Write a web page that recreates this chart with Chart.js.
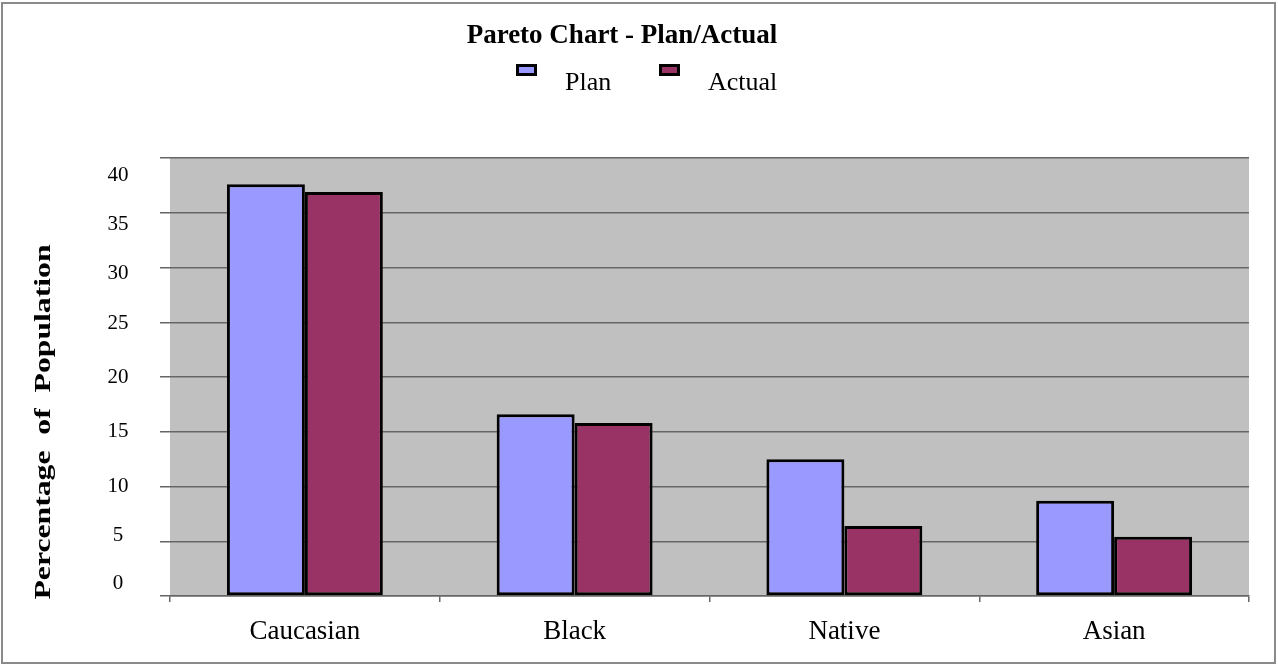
<!DOCTYPE html>
<html>
<head>
<meta charset="utf-8">
<script src="https://cdn.jsdelivr.net/npm/chart.js@4.4.1/dist/chart.umd.min.js"></script>
<style>
  html, body { margin: 0; padding: 0; background: #ffffff; }
  #wrap { position: relative; width: 1278px; height: 665px; }
</style>
</head>
<body>
<div id="wrap"><canvas id="chart" width="1278" height="665"></canvas></div>
<script>
// Chart content
const chartTitle = 'Pareto Chart - Plan/Actual';
const yAxisTitle = 'Percentage  of  Population';
const categories = ['Caucasian', 'Black', 'Native', 'Asian'];
const seriesNames = ['Plan', 'Actual'];
const planValues = [37.6, 16.6, 12.5, 8.7];
const actualValues = [36.9, 15.8, 6.4, 5.4];
const yMin = 0;
const yMax = 40;
const yStep = 5;

const SERIF = '"Liberation Serif", "Times New Roman", serif';
const GRID = '#666666';

// value-axis labels sit pulled in from the ends of the axis (pixels, + is downward)
const labelNudge = { 40: 17, 35: 12, 30: 6, 25: 1, 20: 0, 15: 0, 10: 0, 5: -6, 0: -13 };

// Frame, plot background, heading, legend, value-axis labels and rotated axis title
const decorations = {
  id: 'decorations',
  beforeDraw(chart) {
    const ctx = chart.ctx;
    const a = chart.chartArea;
    ctx.save();
    ctx.fillStyle = '#ffffff';
    ctx.fillRect(0, 0, chart.width, chart.height);
    ctx.strokeStyle = '#8a8a8a';
    ctx.lineWidth = 2;
    ctx.strokeRect(2, 3, chart.width - 5, chart.height - 5);
    ctx.fillStyle = '#c0c0c0';
    ctx.fillRect(a.left, a.top, a.right - a.left, a.bottom - a.top);
    ctx.restore();
  },
  afterDraw(chart) {
    const ctx = chart.ctx;
    ctx.save();
    // heading
    ctx.fillStyle = '#000';
    ctx.font = 'bold 27px ' + SERIF;
    ctx.textAlign = 'center';
    ctx.textBaseline = 'alphabetic';
    ctx.fillText(chartTitle, 622, 43);

    // legend
    const boxX = [516, 659];
    chart.data.datasets.forEach((ds, i) => {
      const bx = boxX[i];
      ctx.fillStyle = ds.backgroundColor;
      ctx.fillRect(bx, 64, 21, 12);
      ctx.strokeStyle = '#000';
      ctx.lineWidth = 3;
      ctx.strokeRect(bx + 1.5, 64 + 1.5, 18, 9);
      ctx.fillStyle = '#000';
      ctx.font = '26px ' + SERIF;
      ctx.textAlign = 'left';
      ctx.fillText(ds.label, bx + 49, 90);
    });

    // value-axis labels
    const ys = chart.scales.y;
    ctx.font = '21px ' + SERIF;
    ctx.textAlign = 'center';
    ctx.textBaseline = 'middle';
    ys.ticks.forEach(t => {
      const py = ys.getPixelForValue(t.value);
      ctx.fillText(String(t.value), 118, py + (labelNudge[t.value] || 0));
    });

    // rotated axis title, stretched along its length
    ctx.font = 'bold 23px ' + SERIF;
    const w = ctx.measureText(yAxisTitle).width;
    ctx.translate(44, 422);
    ctx.rotate(-Math.PI / 2);
    ctx.scale(355 / w, 1);
    ctx.textAlign = 'center';
    ctx.textBaseline = 'middle';
    ctx.fillText(yAxisTitle, 0, 0);
    ctx.restore();
  }
};

new Chart(document.getElementById('chart'), {
  type: 'bar',
  data: {
    labels: categories,
    datasets: [
      {
        label: seriesNames[0],
        data: planValues,
        backgroundColor: '#9999ff',
        borderColor: '#000000',
        borderWidth: 3,
        borderSkipped: false
      },
      {
        label: seriesNames[1],
        data: actualValues,
        backgroundColor: '#993366',
        borderColor: '#000000',
        borderWidth: 3,
        borderSkipped: false
      }
    ]
  },
  options: {
    responsive: false,
    animation: false,
    devicePixelRatio: 1,
    layout: { padding: { top: 158, right: 29, bottom: 0, left: 0 } },
    datasets: { bar: { categoryPercentage: 0.578, barPercentage: 1.0 } },
    plugins: {
      legend: { display: false },
      title: { display: false },
      tooltip: { enabled: false }
    },
    scales: {
      x: {
        offset: true,
        grid: {
          display: true,
          offset: true,
          drawOnChartArea: false,
          drawTicks: true,
          tickLength: 6,
          color: GRID,
          lineWidth: 1.5
        },
        border: { display: true, color: GRID, width: 1.5 },
        ticks: {
          color: '#000',
          font: { family: SERIF, size: 27 },
          padding: 14,
          maxRotation: 0
        },
        afterFit(scale) { scale.height = 69; }
      },
      y: {
        min: yMin,
        max: yMax,
        grid: {
          color: GRID,
          lineWidth: 1.5,
          drawTicks: true,
          tickLength: 10,
          tickColor: GRID
        },
        border: { display: false },
        ticks: {
          display: false,
          stepSize: yStep
        },
        afterFit(scale) { scale.width = 170; }
      }
    }
  },
  plugins: [decorations]
});
</script>
</body>
</html>
